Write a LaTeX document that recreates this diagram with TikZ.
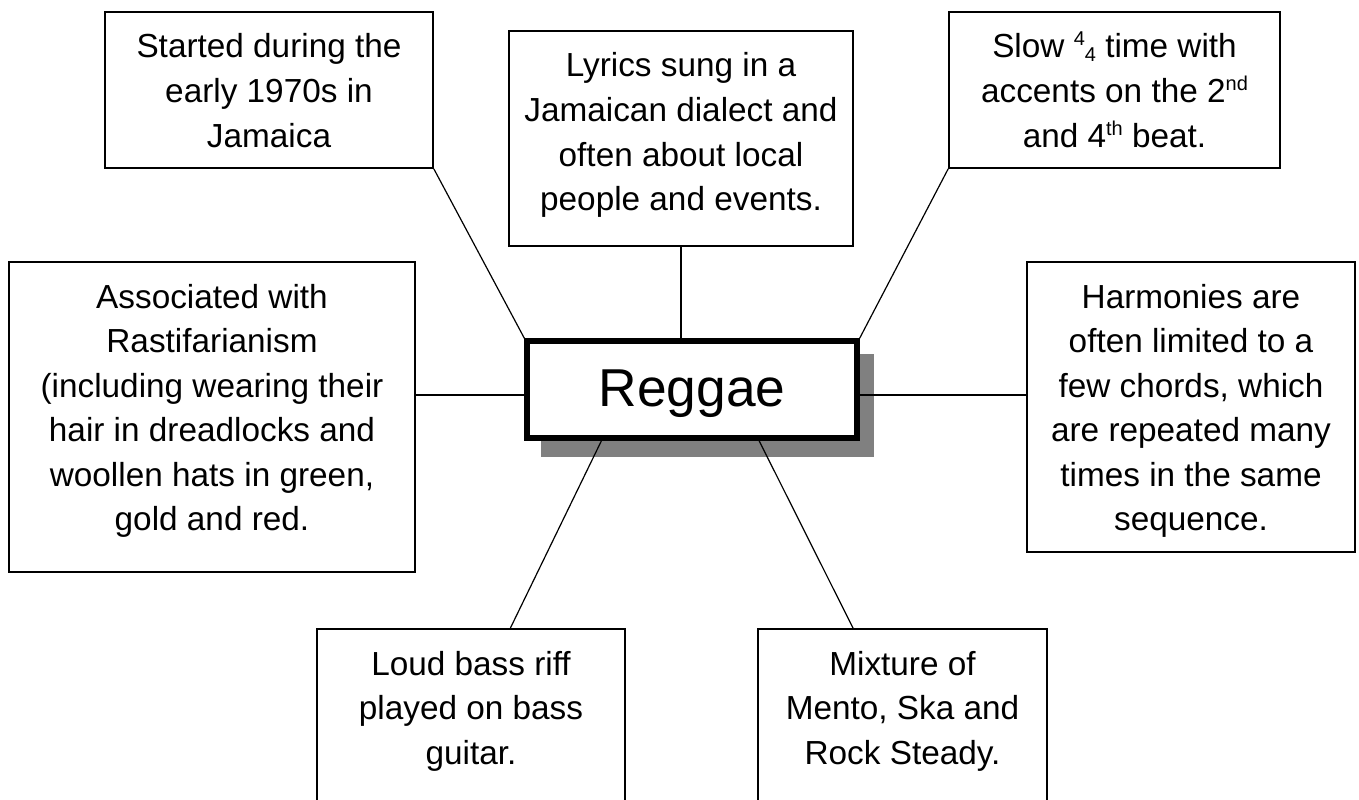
\documentclass[tikz,border=0pt]{standalone}
\usepackage{fontspec}
\setmainfont{Liberation Sans}
\usetikzlibrary{fit,calc}
\newcommand\mylines[1]{\begin{tabular}[t]{@{}c@{}}#1\end{tabular}}
\newcommand\supr[1]{\raisebox{9pt}{\fontsize{15}{15}\selectfont #1}}
\newcommand\subr[1]{\raisebox{-2.5pt}{\fontsize{15}{15}\selectfont #1}}
\begin{document}
\begin{tikzpicture}[x=0.75pt,y=-0.75pt,
  box/.style={draw=black, line width=1.2pt, fill=white, inner sep=0pt},
  txt/.style={inner sep=0pt, anchor=base, font=\fontsize{25}{33.4}\selectfont},
  conn/.style={draw=black, line width=0.9pt}]
\useasboundingbox (0,0) rectangle (1359,799);
\clip (0,0) rectangle (1359,799);
\fill[white] (0,0) rectangle (1359,799);

% boxes
\node[box, fit={(105,12) (433,168)}] (started) {};
\node[box, fit={(509,31) (853,246)}] (lyrics) {};
\node[box, fit={(949,12) (1280,168)}] (slow) {};
\node[box, fit={(9,262) (415,572)}] (assoc) {};
\node[box, fit={(1027,262) (1355,552)}] (harm) {};
\node[box, fit={(317,629) (625,830)}] (loud) {};
\node[box, fit={(758,629) (1047,830)}] (mix) {};

% centre
\fill[black!50] (541,354) rectangle (874,457);
\node[draw=black, line width=3.8pt, fill=white, inner sep=0pt, fit={(527,341) (857,438)}] (reg) {};
\node[inner sep=0pt, anchor=base, font=\fontsize{40}{40}\selectfont] (regt) at (692,406) {Reggae};

% connectors
\coordinate (hL) at (0,395);
\draw[conn] (reg.north west) -- (started.south east);
\draw[conn] (lyrics.south) -- (lyrics.south |- reg.north);
\draw[conn] (reg.north east) -- (slow.south west);
\draw[conn] (assoc.east |- hL) -- (reg.west |- hL);
\draw[conn] (reg.east |- hL) -- (harm.west |- hL);
\draw[conn] ($(reg.south west)!0.23!(reg.south east)$) -- ($(loud.north west)!0.627!(loud.north east)$);
\draw[conn] ($(reg.south west)!0.70!(reg.south east)$) -- ($(mix.north west)!0.33!(mix.north east)$);

% texts
\node[txt] (started-t) at (269,58) {\mylines{Started during the\\early 1970s in\\Jamaica}};
\node[txt] (lyrics-t) at (681,77) {\mylines{Lyrics sung in a\\Jamaican dialect and\\often about local\\people and events.}};
\node[txt] (slow-t) at (1114.5,58) {\mylines{Slow \supr{4}\subr{4} time with\\accents on the 2\supr{nd}\\and 4\supr{th} beat.}};
\node[txt] (assoc-t) at (212,308) {\mylines{Associated with\\Rastifarianism\\(including wearing their\\hair in dreadlocks and\\woollen hats in green,\\gold and red.}};
\node[txt] (harm-t) at (1191,308) {\mylines{Harmonies are\\often limited to a\\few chords, which\\are repeated many\\times in the same\\sequence.}};
\node[txt] (loud-t) at (471,675) {\mylines{Loud bass riff\\played on bass\\guitar.}};
\node[txt] (mix-t) at (902.5,675) {\mylines{Mixture of\\Mento, Ska and\\Rock Steady.}};
\end{tikzpicture}
\end{document}
